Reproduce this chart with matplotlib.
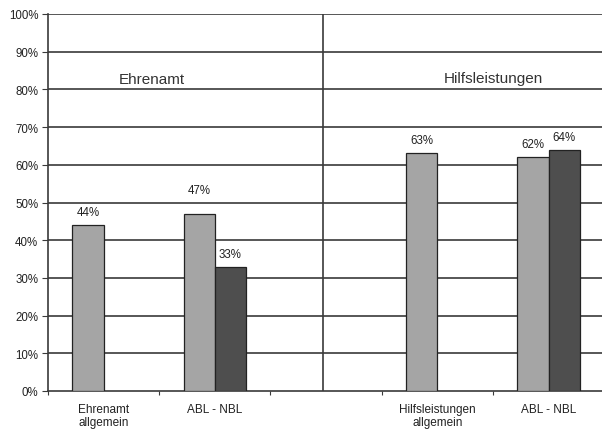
import matplotlib.pyplot as plt
import numpy as np

CATEGORIES = ["Ehrenamt\nallgemein", "ABL - NBL", "", "Hilfsleistungen\nallgemein", "ABL - NBL"]
SERIES_A = [44, 47, None, 63, 62]
SERIES_B = [None, 33, None, None, 64]
GROUPS = ["Ehrenamt", "Hilfsleistungen"]
YTICKS = [0, 10, 20, 30, 40, 50, 60, 70, 80, 90, 100]

plt.rcParams["font.family"] = ["Liberation Sans", "DejaVu Sans"]

fig = plt.figure(figsize=(6.02, 4.31), dpi=100)
ax = fig.add_axes([48 / 602, 39 / 431, 1 - 48 / 602, 377 / 431])

line_col = "#3a3a3a"
w = 0.28
x = np.arange(len(CATEGORIES))

for y in YTICKS[1:]:
    ax.axhline(y, color=line_col, lw=1.2, zorder=1)

for xi, v in zip(x, SERIES_A):
    if v is None:
        continue
    ax.bar(xi - w / 2, v, width=w, color="#a5a5a5", edgecolor="#222", lw=0.9, zorder=3)
    off = 24 if v == 47 else 13
    ax.annotate(f"{v}%", (xi - w / 2, v), xytext=(0, off), textcoords="offset pixels",
                ha="center", va="center", fontsize=8.3, color="#222")

for xi, v in zip(x, SERIES_B):
    if v is None:
        continue
    ax.bar(xi + w / 2, v, width=w, color="#4e4e4e", edgecolor="#222", lw=0.9, zorder=3)
    ax.annotate(f"{v}%", (xi + w / 2, v), xytext=(0, 13), textcoords="offset pixels",
                ha="center", va="center", fontsize=8.3, color="#222")

# divider between the two groups
ax.axvline(1.97, color=line_col, lw=1.2, zorder=2)

ax.text(0.43, 82.8, GROUPS[0], ha="center", va="center", fontsize=11, color="#333")
ax.text(3.5, 83, GROUPS[1], ha="center", va="center", fontsize=11, color="#333")

ax.set_xlim(-0.5, 4.48)
ax.set_ylim(0, 100)
ax.set_yticks(YTICKS)
ax.set_yticklabels([f"{t}%" for t in YTICKS], fontsize=8.3, color="#222")
ax.set_xticks(np.arange(-0.5, 4.5, 1.0))
ax.set_xticklabels([])
ax.set_xticks(x, minor=True)
ax.set_xticklabels(CATEGORIES, minor=True, fontsize=8.5, color="#222", linespacing=1.05)
ax.tick_params(axis="x", which="minor", length=0, pad=9)
ax.tick_params(axis="x", which="major", length=3, color=line_col, direction="out")
ax.tick_params(axis="y", length=4, color=line_col, pad=3)

for s in ["top", "right"]:
    ax.spines[s].set_visible(False)
ax.spines["left"].set_color(line_col)
ax.spines["bottom"].set_color(line_col)
ax.spines["left"].set_linewidth(1.2)
ax.spines["bottom"].set_linewidth(1.2)

fig.savefig("out.png", dpi=100)
